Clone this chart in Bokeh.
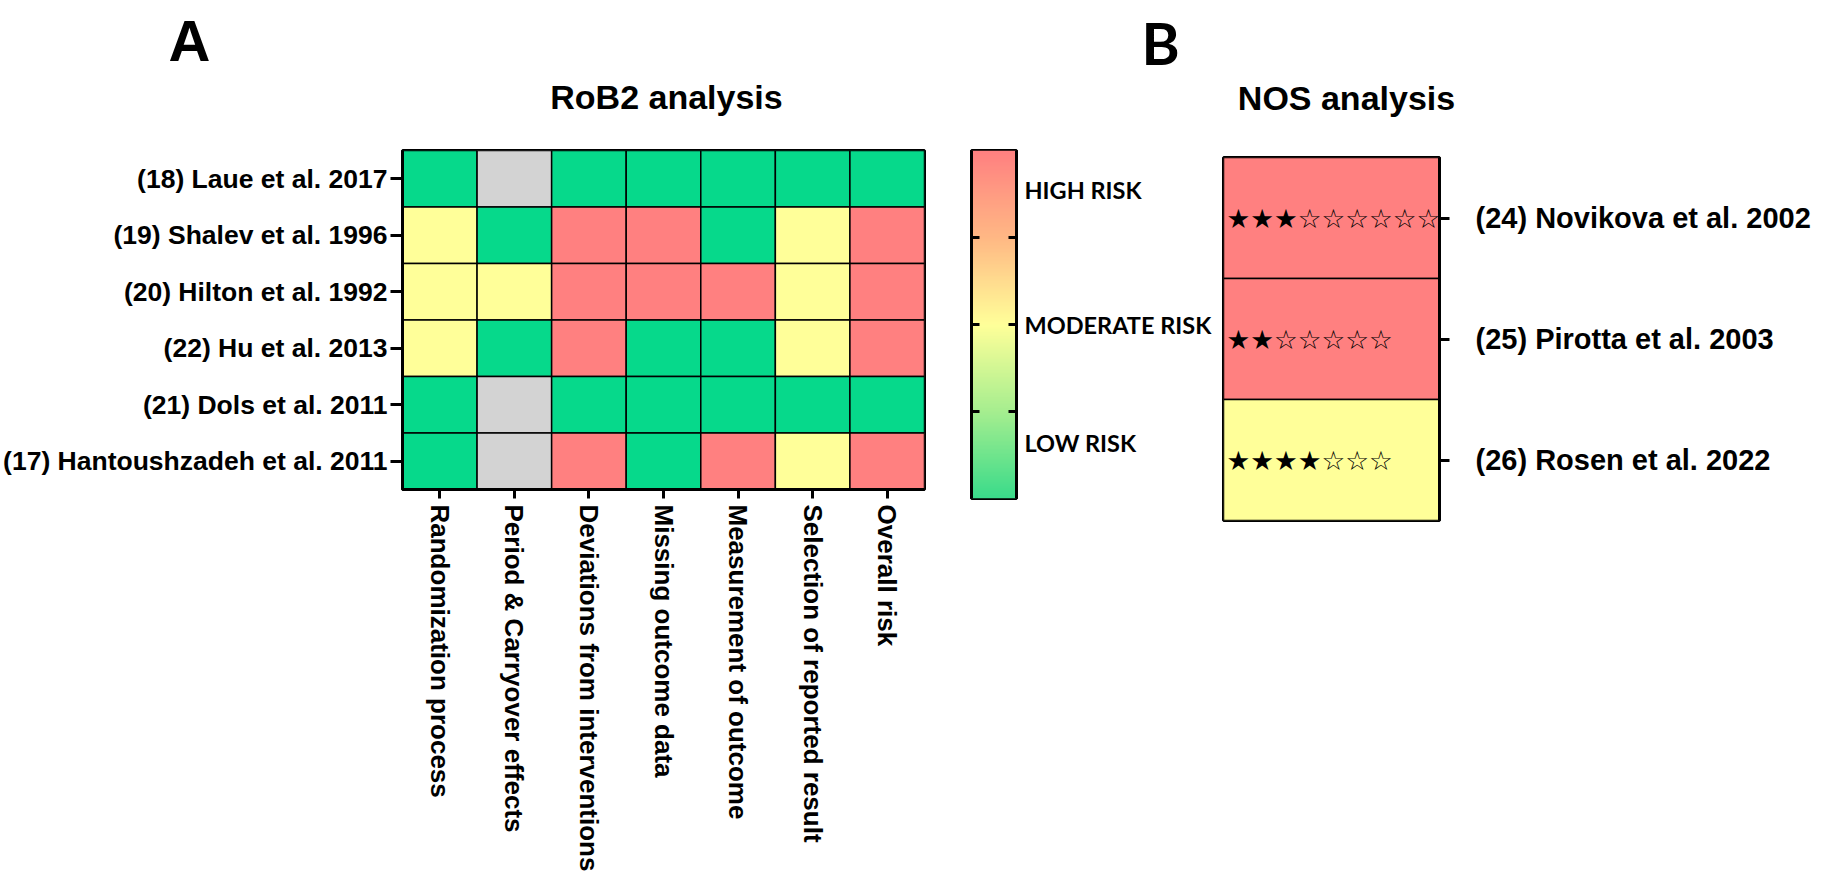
import numpy as np
from bokeh.plotting import figure
from bokeh.layouts import row, column
from bokeh.models import (ColumnDataSource, FactorRange, Range1d, FixedTicker,
                          LinearColorMapper, LinearAxis)
from bokeh.transform import factor_cmap
from bokeh.core.properties import value
from bokeh.embed import file_html
from bokeh.resources import INLINE

# ---------------- data ----------------
domains = ["Randomization process", "Period & Carryover effects", "Deviations from interventions",
           "Missing outcome data", "Measurement of outcome", "Selection of reported result",
           "Overall risk"]
rob_studies = ["(18) Laue et al. 2017", "(19) Shalev et al. 1996", "(20) Hilton et al. 1992",
               "(22) Hu et al. 2013", "(21) Dols et al. 2011", "(17) Hantoushzadeh et al. 2011"]
laue_2017 = ["Low", "NA", "Low", "Low", "Low", "Low", "Low"]
shalev_1996 = ["Some", "Low", "High", "High", "Low", "Some", "High"]
hilton_1992 = ["Some", "Some", "High", "High", "High", "Some", "High"]
hu_2013 = ["Some", "Low", "High", "Low", "Low", "Some", "High"]
dols_2011 = ["Low", "NA", "Low", "Low", "Low", "Low", "Low"]
hantoushzadeh_2011 = ["Low", "NA", "High", "Low", "High", "Some", "High"]
rob_rows = [laue_2017, shalev_1996, hilton_1992, hu_2013, dols_2011, hantoushzadeh_2011]

risk_levels = ["Low", "Some", "High", "NA"]
risk_colors = ["#06D98B", "#FFFF99", "#FF8080", "#D3D3D3"]

cb_labels = ["LOW RISK", "MODERATE RISK", "HIGH RISK"]
cb_label_pos = [0.16, 0.5, 0.887]
cb_ticks = [0.25, 0.5, 0.75]

nos_studies = ["(24) Novikova et al. 2002", "(25) Pirotta et al. 2003", "(26) Rosen et al. 2022"]
nos_risk = ["High", "High", "Some"]
nos_stars = [3, 2, 4]
nos_max = [9, 7, 7]

panel_letters = ["A", "B"]
panel_titles = ["RoB2 analysis", "NOS analysis"]

# ---------------- styles ----------------
ARIAL = "'Liberation Sans', Arial, sans-serif"
CALIBRI = "Lato, 'Open Sans', sans-serif"
W = 1815
HH = 125          # header strip height
H = 877 - HH      # plots height


def no_align(p):
    try:
        p.frame_align = False
    except Exception:
        pass
    return p


# ---------------- header (panel letters and titles) ----------------
hdr = figure(width=W, height=HH, x_range=Range1d(0, W), y_range=Range1d(0, HH),
             output_backend="svg", toolbar_location=None,
             x_axis_location=None, y_axis_location=None,
             min_border_left=0, min_border_right=0, min_border_top=0, min_border_bottom=0)
hdr.grid.visible = False
hdr.outline_line_color = None
hdr.text(x=[189], y=[85], text=[panel_letters[0]], text_align="center",
         text_baseline="alphabetic", text_font=value(ARIAL), text_font_style="bold",
         text_font_size="58px", text_color="black")
hdr.text(x=[1160], y=[83], text=[panel_letters[1]], text_align="center",
         text_baseline="alphabetic", text_font=value(CALIBRI), text_font_style="bold",
         text_font_size="58px", text_color="black")
hdr.text(x=[666, 1346], y=[29, 28], text=panel_titles, text_align="center",
         text_baseline="alphabetic", text_font=value(ARIAL), text_font_style="bold",
         text_font_size="34px", text_color="black")
no_align(hdr)

# ---------------- panel A ----------------
xs, ys, rs = [], [], []
for st, vals in zip(rob_studies, rob_rows):
    for d, r in zip(domains, vals):
        xs.append(d); ys.append(st); rs.append(r)
srcA = ColumnDataSource(dict(domain=xs, study=ys, risk=rs))

pA = figure(width=944, height=H, x_range=FactorRange(*domains),
            y_range=FactorRange(*rob_studies[::-1]),
            output_backend="svg", toolbar_location=None,
            min_border_left=399, min_border_right=20, min_border_top=25,
            min_border_bottom=388)
pA.rect(x="domain", y="study", width=1, height=1, source=srcA,
        fill_color=factor_cmap("risk", palette=risk_colors, factors=risk_levels),
        line_color="black", line_width=1.5)
pA.grid.visible = False
pA.outline_line_color = "black"
pA.outline_line_width = 3
for ax in (pA.xaxis[0], pA.yaxis[0]):
    ax.axis_line_width = 3
    ax.major_tick_line_width = 3
    ax.major_tick_in = 0
    ax.major_label_text_font = ARIAL
    ax.major_label_text_font_style = "bold"
    ax.major_label_text_color = "black"
pA.yaxis.major_label_text_font_size = "26.5px"
pA.xaxis.major_label_text_font_size = "26px"
pA.yaxis.major_tick_out = 12
pA.yaxis.major_label_standoff = 3
pA.xaxis.major_tick_out = 9
pA.xaxis.major_label_standoff = 6
pA.xaxis.major_label_orientation = "vertical"
no_align(pA)

# ---------------- colour bar ----------------
anchors = [(0.0, "#3ADB8A"), (0.25, "#A6EE8F"), (0.5, "#FFFF99"), (0.75, "#FFB884"), (1.0, "#FF8080")]
def _rgb(h):
    return np.array([int(h[i:i + 2], 16) for i in (1, 3, 5)], dtype=float)
pal = []
for t in np.linspace(0, 1, 256):
    for (t0, c0), (t1, c1) in zip(anchors[:-1], anchors[1:]):
        if t0 <= t <= t1:
            f = (t - t0) / (t1 - t0)
            c = _rgb(c0) * (1 - f) + _rgb(c1) * f
            pal.append("#%02x%02x%02x" % tuple(int(round(v)) for v in c))
            break
grad = np.linspace(0, 1, 256).reshape(-1, 1)

pCB = figure(width=275, height=H, x_range=Range1d(0, 1), y_range=Range1d(0, 1),
             output_backend="svg", toolbar_location=None,
             x_axis_location=None, y_axis_location=None,
             min_border_left=27, min_border_right=203, min_border_top=25,
             min_border_bottom=H - 25 - 348)
pCB.image(image=[grad], x=0, y=0, dw=1, dh=1,
          color_mapper=LinearColorMapper(palette=pal, low=0, high=1))
pCB.grid.visible = False
pCB.outline_line_color = "black"
pCB.outline_line_width = 3
lax = LinearAxis(ticker=FixedTicker(ticks=[], minor_ticks=cb_ticks),
                 major_tick_line_color=None, minor_tick_in=8, minor_tick_out=0,
                 minor_tick_line_width=3, axis_line_width=3, major_label_standoff=0)
pCB.add_layout(lax, "left")
overrides = {}
for pos, lab in zip(cb_label_pos, cb_labels):
    overrides[pos] = lab
    overrides[str(pos)] = lab
rax = LinearAxis(ticker=FixedTicker(ticks=cb_label_pos, minor_ticks=cb_ticks),
                 major_tick_in=0, major_tick_out=0, minor_tick_in=8, minor_tick_out=0,
                 minor_tick_line_width=3, axis_line_width=3,
                 major_label_overrides=overrides, major_label_standoff=8,
                 major_label_text_font=CALIBRI, major_label_text_font_style="bold",
                 major_label_text_font_size="23.5px", major_label_text_color="black")
pCB.add_layout(rax, "right")
no_align(pCB)

# ---------------- panel B ----------------
star_txt = ["\u2605" * f + "\u2606" * (m - f) for f, m in zip(nos_stars, nos_max)]
srcB = ColumnDataSource(dict(study=nos_studies, risk=nos_risk, stars=star_txt))
pB = figure(width=596, height=H, x_range=Range1d(0, 1), y_range=FactorRange(*nos_studies[::-1]),
            output_backend="svg", toolbar_location=None,
            x_axis_location=None, y_axis_location="right",
            min_border_left=4, min_border_right=376, min_border_top=32,
            min_border_bottom=H - 32 - 363)
pB.hbar(y="study", left=0, right=1, height=1, source=srcB,
        fill_color=factor_cmap("risk", palette=risk_colors, factors=risk_levels),
        line_color="black", line_width=1.5)
pB.text(x=0, y="study", text="stars", source=srcB, x_offset=3, text_baseline="middle",
        text_align="left", text_font=value("DejaVu Sans"), text_font_size="26.5px",
        text_color="black")
pB.grid.visible = False
pB.outline_line_color = "black"
pB.outline_line_width = 3
ax = pB.yaxis[0]
ax.axis_line_width = 3
ax.major_tick_line_width = 3
ax.major_tick_in = 0
ax.major_tick_out = 10
ax.major_label_standoff = 26
ax.major_label_text_font = ARIAL
ax.major_label_text_font_style = "bold"
ax.major_label_text_font_size = "29px"
ax.major_label_text_color = "black"
no_align(pB)

layout = column(hdr, row(pA, pCB, pB))
open("out.html", "w").write(file_html(layout, INLINE))
